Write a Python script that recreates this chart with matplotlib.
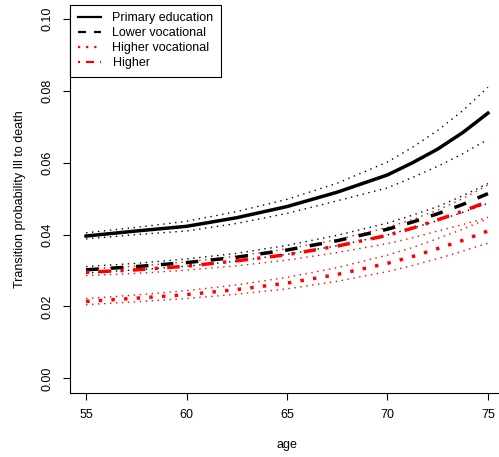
import matplotlib
matplotlib.use("Agg")
import matplotlib.pyplot as plt
from matplotlib.lines import Line2D

plt.rcParams["font.family"] = ["Liberation Sans", "DejaVu Sans"]
plt.rcParams["font.size"] = 9

age = [55, 57.5, 60, 62.5, 65, 67.5, 70, 71.25, 72.5, 73.75, 75]

# Primary education
prim = [0.0396, 0.0410, 0.0423, 0.0447, 0.0478, 0.0518, 0.0566, 0.0600, 0.0638, 0.0684, 0.0738]
prim_hi = [0.0405, 0.0420, 0.0437, 0.0464, 0.0498, 0.0543, 0.0602, 0.0643, 0.0690, 0.0745, 0.0810]
prim_lo = [0.0388, 0.0400, 0.0410, 0.0431, 0.0459, 0.0494, 0.0530, 0.0559, 0.0590, 0.0625, 0.0665]

# Lower vocational
lowv = [0.0302, 0.0311, 0.0322, 0.0337, 0.0357, 0.0383, 0.0415, 0.0435, 0.0458, 0.0484, 0.0514]
lowv_hi = [0.0311, 0.0320, 0.0332, 0.0348, 0.0370, 0.0398, 0.0432, 0.0454, 0.0478, 0.0508, 0.0542]
lowv_lo = [0.0293, 0.0302, 0.0312, 0.0326, 0.0345, 0.0369, 0.0399, 0.0418, 0.0439, 0.0462, 0.0487]

# Higher vocational
highv = [0.0214, 0.0223, 0.0233, 0.0247, 0.0265, 0.0289, 0.0320, 0.0339, 0.0361, 0.0384, 0.0410]
highv_hi = [0.0222, 0.0232, 0.0244, 0.0260, 0.0281, 0.0308, 0.0343, 0.0364, 0.0389, 0.0415, 0.0445]
highv_lo = [0.0205, 0.0213, 0.0222, 0.0234, 0.0249, 0.0270, 0.0297, 0.0314, 0.0333, 0.0354, 0.0376]

# Higher
high = [0.0295, 0.0302, 0.0312, 0.0327, 0.0344, 0.0368, 0.0398, 0.0418, 0.0441, 0.0465, 0.0492]
high_hi = [0.0304, 0.0312, 0.0324, 0.0340, 0.0360, 0.0386, 0.0420, 0.0442, 0.0468, 0.0500, 0.0538]
high_lo = [0.0286, 0.0292, 0.0301, 0.0313, 0.0329, 0.0350, 0.0375, 0.0391, 0.0410, 0.0428, 0.0448]

labels = ["Primary education", "Lower vocational", "Higher vocational", "Higher"]
xticks = [55, 60, 65, 70, 75]
yticks = [0.00, 0.02, 0.04, 0.06, 0.08, 0.10]

fig = plt.figure(figsize=(4.99, 4.57), dpi=100)
ax = fig.add_axes([70 / 499, 64.3 / 457, 434 / 499, 388.1 / 457])

lw = 2.5
thin = dict(lw=1.0, dashes=(1, 3.3))
styles = [
    dict(color="black", ls="-"),
    dict(color="black", dashes=(3.6, 3.6)),
    dict(color="red", dashes=(1, 2.65)),
    dict(color="red", dashes=(0.9, 2.7, 3.6, 2.7)),
]
series = [(prim, prim_lo, prim_hi), (lowv, lowv_lo, lowv_hi),
          (highv, highv_lo, highv_hi), (high, high_lo, high_hi)]

# confidence bands first, point estimates on top
for (est, lo, hi), st in zip(series, styles):
    ax.plot(age, lo, color=st["color"], **thin)
    ax.plot(age, hi, color=st["color"], **thin)
for (est, lo, hi), st in zip(series, styles):
    ax.plot(age, est, lw=lw, **st)

ax.set_xlim(54.2, 75.8)
ax.set_ylim(-0.004, 0.104)
ax.set_xticks(xticks)
ax.set_yticks(yticks)
ax.set_yticklabels(["%.2f" % v for v in yticks], rotation=90, va="center")
ax.tick_params(length=5, width=0.8, pad=7)
for s in ["top", "right"]:
    ax.spines[s].set_visible(False)
for s in ["left", "bottom"]:
    ax.spines[s].set_linewidth(0.8)

ax.set_xlabel("age", labelpad=13)
ax.set_ylabel("Transition probability Ill to death", labelpad=11)

handles = [Line2D([], [], lw=1.6, **st) for st in styles]
leg = ax.legend(handles, labels, loc="upper left", bbox_to_anchor=(0, 1),
                borderaxespad=0, fancybox=False, framealpha=1,
                edgecolor="black", handlelength=1.9, handletextpad=0.9,
                labelspacing=0.25, borderpad=0.6)
leg.get_frame().set_linewidth(0.8)

plt.savefig("out.png", dpi=100)
